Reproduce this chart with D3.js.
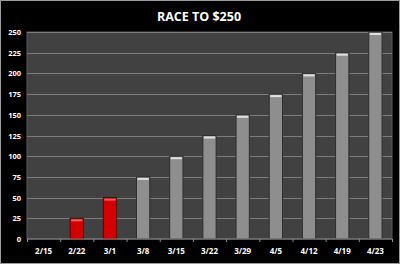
<!DOCTYPE html>
<meta charset="utf-8">
<head>
    <title>Race to $250</title>
</head>
<style>
    body { margin: 0; background: #000; }
    svg { display: block; }
    text { font-family: "Open Sans", Lato, sans-serif; fill: #ffffff; }
</style>
<body>
    <svg width="400" height="264"></svg>
    <script src="https://cdnjs.cloudflare.com/ajax/libs/d3/7.8.5/d3.min.js"></script>
    <script>
        var width = 400, height = 264
        var weeks = ['2/15', '2/22', '3/1', '3/8', '3/15', '3/22', '3/29', '4/5', '4/12', '4/19', '4/23']
        var saved = [0, 25, 50, 75, 100, 125, 150, 175, 200, 225, 250]
        var yTicks = [0, 25, 50, 75, 100, 125, 150, 175, 200, 225, 250]
        // weeks that are actually reached (drawn red)
        var done = ['2/22', '3/1']

        var data = weeks.map(function (w, i) {
            return { week: w, value: saved[i], red: done.indexOf(w) >= 0 }
        })

        var margin = { top: 32, right: 8, bottom: 25, left: 27 }
        var svg = d3.select('svg')

        svg.append('rect')
            .attr('x', 0.5).attr('y', 0.5)
            .attr('width', width - 1).attr('height', height - 1)
            .attr('fill', '#000').attr('stroke', '#9a9a9a')

        var x = d3.scaleBand()
            .domain(weeks)
            .range([margin.left, width - margin.right])
            .paddingInner(0.6).paddingOuter(0.3)

        var y = d3.scaleLinear()
            .domain([0, 250])
            .range([height - margin.bottom, margin.top])

        // plot area
        svg.append('rect')
            .attr('x', margin.left).attr('y', margin.top)
            .attr('width', width - margin.left - margin.right)
            .attr('height', height - margin.top - margin.bottom)
            .attr('fill', '#414141')
            .attr('stroke', '#5a5a5a')

        // gridlines
        svg.append('g')
            .selectAll('line')
            .data(yTicks.slice(1))
            .enter()
            .append('line')
            .attr('x1', margin.left).attr('x2', width - margin.right)
            .attr('y1', function (d) { return Math.round(y(d)) + 0.5 })
            .attr('y2', function (d) { return Math.round(y(d)) + 0.5 })
            .attr('stroke', '#7c7c7c')

        // bars
        var bars = svg.append('g')
            .selectAll('g')
            .data(data.filter(function (d) { return d.value > 0 }))
            .enter()
            .append('g')

        bars.append('rect')
            .attr('x', function (d) { return x(d.week) })
            .attr('y', function (d) { return y(d.value) })
            .attr('width', x.bandwidth())
            .attr('height', function (d) { return y(0) - y(d.value) })
            .attr('fill', function (d) { return d.red ? '#d40000' : '#8e8e8e' })
            .attr('stroke', function (d) { return d.red ? '#5a0000' : '#2e2e2e' })
            .attr('stroke-width', 1)

        // top highlight cap
        bars.append('rect')
            .attr('x', function (d) { return x(d.week) + 1 })
            .attr('y', function (d) { return y(d.value) + 1 })
            .attr('width', x.bandwidth() - 2)
            .attr('height', 2)
            .attr('fill', function (d) { return d.red ? '#ff5a5a' : '#e0e0e0' })

        // x axis
        var xAxis = svg.append('g')
            .attr('transform', 'translate(0,' + y(0) + ')')
        xAxis.append('line')
            .attr('x1', margin.left).attr('x2', width - margin.right)
            .attr('stroke', '#8a8a8a')
        var step = x.step()
        xAxis.selectAll('line.tick')
            .data(d3.range(weeks.length + 1))
            .enter()
            .append('line')
            .attr('class', 'tick')
            .attr('x1', function (d) { return margin.left + d * step + 0.5 })
            .attr('x2', function (d) { return margin.left + d * step + 0.5 })
            .attr('y1', 0).attr('y2', 3)
            .attr('stroke', '#8a8a8a')
        xAxis.selectAll('text')
            .data(weeks)
            .enter()
            .append('text')
            .attr('x', function (d) { return x(d) + x.bandwidth() / 2 })
            .attr('y', 15)
            .attr('text-anchor', 'middle')
            .attr('font-size', 8)
            .attr('font-weight', 'bold')
            .text(function (d) { return d })

        // y labels
        svg.append('g')
            .selectAll('text')
            .data(yTicks)
            .enter()
            .append('text')
            .attr('x', 21)
            .attr('y', function (d) { return y(d) + 3 })
            .attr('text-anchor', 'end')
            .attr('font-size', 7.5)
            .attr('font-weight', 'bold')
            .text(function (d) { return d })

        svg.append('text')
            .attr('x', 199).attr('y', 21)
            .attr('text-anchor', 'middle')
            .attr('font-size', 12.5)
            .attr('font-weight', 'bold')
            .text('RACE TO $250')
    </script>
</body>
</html>
